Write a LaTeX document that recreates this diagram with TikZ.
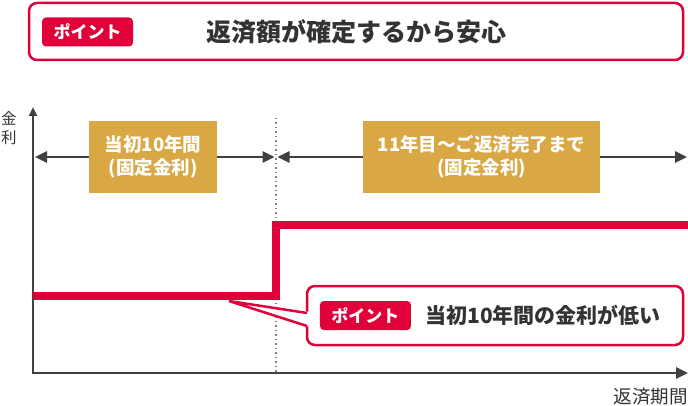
\documentclass[tikz,border=0pt]{standalone}
\usepackage{fontspec}
\setmainfont{Noto Sans CJK JP}
\usetikzlibrary{arrows.meta, positioning, calc}
\definecolor{PointRed}  {RGB}{224,  0, 58}
\definecolor{FixedGold} {RGB}{217,167, 68}
\definecolor{AxisGray}  {RGB}{ 64, 64, 64}
\definecolor{TextGray}  {RGB}{ 51, 51, 51}

\begin{document}
\begin{tikzpicture}[
  x=1pt, y=-1pt,
  frame/.style={draw=PointRed, line width=2.5pt, rounded corners=8pt, fill=white},
  tag/.style={fill=PointRed, rounded corners=4pt, text=white, inner sep=0pt,
              minimum width=91pt, minimum height=29pt,
              font=\fontsize{17}{17}\selectfont\bfseries},
  period/.style={fill=FixedGold, text=white, align=center, inner sep=0pt,
                 minimum height=72pt, font=\fontsize{18.5}{23}\selectfont\bfseries},
  lbl/.style={text=TextGray, inner sep=0pt},
  arr/.style={-{Triangle[length=12pt, width=11pt]}, AxisGray, line width=2.5pt},
  rate/.style={PointRed, line width=8pt}
]
  \useasboundingbox (0,0) rectangle (688,406);

  % headline
  \node[frame, minimum width=654pt, minimum height=57pt] (title) at (356,31.5) {};
  \node[tag] (tagtop) at (87.5,32) {ポイント};
  \node[lbl, font=\fontsize{25}{25}\selectfont\bfseries] (headline) at (title) {返済額が確定するから安心};

  % axes
  \coordinate (origin) at (33,373);
  \coordinate (ytop) at (33,107);
  \coordinate (xend) at (688,373);
  \draw[AxisGray, line width=2.5pt, {Triangle[length=9pt, width=8pt]}-{Triangle[length=12pt, width=11pt]}]
    (ytop) -- (origin) -- (xend);
  \node[lbl, font=\fontsize{15.5}{19}\selectfont, align=center] (ylabel) at (9,128) {金\\利};
  \node[lbl, font=\fontsize{18.5}{18.5}\selectfont, anchor=east] (xlabel) at (688,397) {返済期間};

  % switch after 10 years
  \coordinate (split) at (276,118);
  \draw[gray, line width=1.5pt, dash pattern=on 1.5pt off 3pt] (split) -- (split |- origin);

  % fixed periods
  \node[period, minimum width=128pt] (first) at (153,157) {当初10年間\\(固定金利)};
  \node[period, minimum width=237pt] (second) at (481.5,157) {11年目～ご返済完了まで\\(固定金利)};
  \coordinate (firstL) at (35,157);
  \coordinate (firstR) at (274.5,157);
  \coordinate (secondL) at (277.5,157);
  \coordinate (secondR) at (687,157);
  \draw[arr] (first.west) -- (firstL);
  \draw[arr] (first.east) -- (firstR);
  \draw[arr] (second.west) -- (secondL);
  \draw[arr] (second.east) -- (secondR);

  % callout
  \node[frame, minimum width=376pt, minimum height=59pt] (callout) at (495,315.5) {};
  \coordinate (tip) at (229,301);
  \coordinate (p1) at (307,313);
  \coordinate (p2) at (307,326);
  \fill[white] ($(p1)+(3,-1)$) -- (tip) -- ($(p2)+(3,1)$) -- cycle;
  \draw[PointRed, line width=2.5pt, line join=miter] (p1) -- (tip) -- (p2);
  \node[tag, anchor=west] (tagcall) at ([xshift=14pt]callout.west) {ポイント};
  \node[lbl, right=14pt of tagcall, font=\fontsize{21}{21}\selectfont\bfseries] (calltext) {当初10年間の金利が低い};

  % interest rate
  \coordinate (r0) at (33,296);
  \coordinate (r1) at (276,225);
  \coordinate (r2) at (688,225);
  \draw[rate] (r0) -| (r1) -- (r2);
\end{tikzpicture}
\end{document}
